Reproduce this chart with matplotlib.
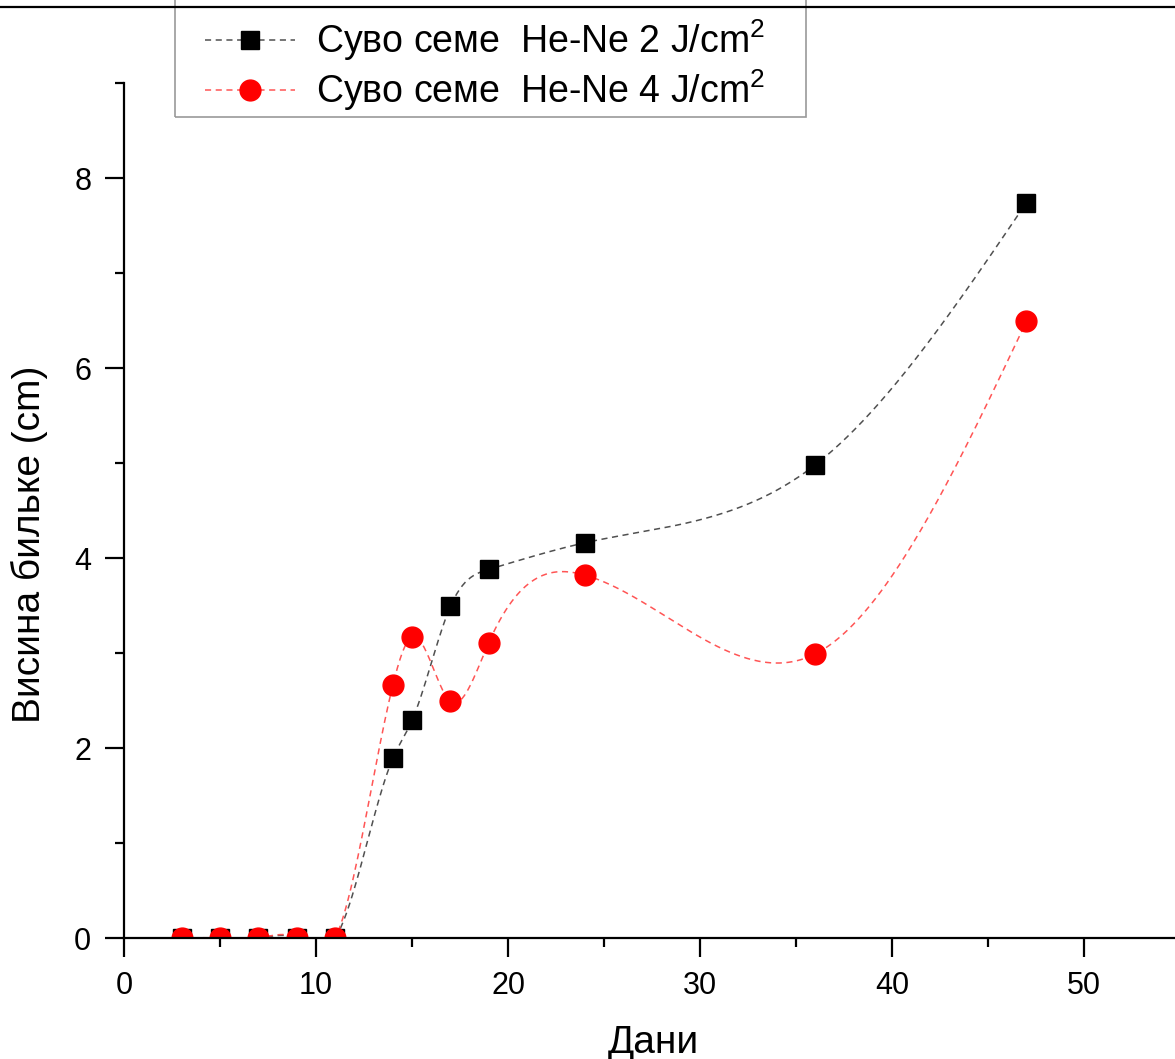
import numpy as np
import matplotlib.pyplot as plt
from matplotlib.lines import Line2D
from matplotlib.patches import Rectangle

plt.rcParams['font.family'] = ['Liberation Sans', 'DejaVu Sans']
plt.rcParams['mathtext.fontset'] = 'custom'
plt.rcParams['mathtext.rm'] = 'Liberation Sans'
plt.rcParams['mathtext.default'] = 'regular'

days = [3, 5, 7, 9, 11, 14, 15, 17, 19, 24, 36, 47]
height_2j = [0, 0, 0, 0, 0, 1.89, 2.29, 3.49, 3.88, 4.16, 4.98, 7.74]
height_4j = [0, 0, 0, 0, 0, 2.66, 3.17, 2.49, 3.11, 3.82, 2.99, 6.49]
labels = ['Суво семе  He-Ne 2 J/cm$^2$', 'Суво семе  He-Ne 4 J/cm$^2$']


def spline(x, y, n=600):
    # natural cubic spline, like Origin's "spline" connect
    x = np.asarray(x, float)
    y = np.asarray(y, float)
    h = np.diff(x)
    k = len(x)
    A = np.zeros((k, k))
    b = np.zeros(k)
    A[0, 0] = A[-1, -1] = 1
    for i in range(1, k - 1):
        A[i, i - 1] = h[i - 1]
        A[i, i] = 2 * (h[i - 1] + h[i])
        A[i, i + 1] = h[i]
        b[i] = 6 * ((y[i + 1] - y[i]) / h[i] - (y[i] - y[i - 1]) / h[i - 1])
    m = np.linalg.solve(A, b)
    xs = np.linspace(x[0], x[-1], n)
    j = np.clip(np.searchsorted(x, xs) - 1, 0, k - 2)
    t0 = x[j + 1] - xs
    t1 = xs - x[j]
    hj = h[j]
    ys = (m[j] * t0 ** 3 + m[j + 1] * t1 ** 3) / (6 * hj) \
        + (y[j] / hj - m[j] * hj / 6) * t0 + (y[j + 1] / hj - m[j + 1] * hj / 6) * t1
    return xs, ys


fig = plt.figure(figsize=(11.75, 10.59), dpi=100)
ax = fig.add_axes([124 / 1175, 1 - 938 / 1059, 1056 / 1175, 855 / 1059])

dash = (0, (4, 3))
xs, ys = spline(days, height_2j)
ax.plot(xs, ys, color='#505050', lw=1.1, ls=dash)
xs, ys = spline(days, height_4j)
ax.plot(xs, ys, color='#ff5555', lw=1.1, ls=dash)
ax.plot(days, height_2j, 's', color='black', ms=13.5, mec='black')
ax.plot(days, height_4j, 'o', color='red', ms=15, mec='red')

ax.set_xlim(0, 55)
ax.set_ylim(0, 9)
ax.set_xticks([0, 10, 20, 30, 40, 50])
ax.set_xticks(np.arange(5, 56, 10), minor=True)
ax.set_yticks([0, 2, 4, 6, 8])
ax.set_yticks([1, 3, 5, 7, 9], minor=True)
for s in ['top', 'right']:
    ax.spines[s].set_visible(False)
for s in ['left', 'bottom']:
    ax.spines[s].set_linewidth(1.6)
ax.tick_params(which='major', direction='out', length=13.5, width=1.6, labelsize=22, pad=10)
ax.tick_params(which='minor', direction='out', length=6.5, width=1.6)

ax.set_xlabel('Дани', fontsize=28)
ax.xaxis.set_label_coords(0.501, -0.102)
ax.xaxis.label.set_va('top')
ax.set_ylabel('Висина бильке (cm)', fontsize=28)
ax.yaxis.set_label_coords(-0.072, 0.46)

h1 = Line2D([], [], color='#505050', lw=1.1, ls=dash, marker='s', mfc='black', mec='black', ms=13.5)
h2 = Line2D([], [], color='#ff5555', lw=1.1, ls=dash, marker='o', mfc='red', mec='red', ms=15)
leg = fig.legend([h1, h2], labels, loc='lower left', bbox_to_anchor=(205 / 1175, 1 - 113 / 1059),
                 fontsize=27, frameon=False, handlelength=2.4, handletextpad=0.55,
                 labelspacing=0.12, borderpad=0, borderaxespad=0)

# legend frame, top edge runs off the picture as in the original
fig.add_artist(Rectangle((175 / 1175, 1 - 117 / 1059), 631 / 1175, 140 / 1059, transform=fig.transFigure,
                         fill=False, edgecolor='#999999', lw=1.2))

fig.add_artist(Line2D([0, 1], [1 - 7 / 1059, 1 - 7 / 1059], color='black', lw=1.6, transform=fig.transFigure))

fig.savefig('out.png', dpi=100)
